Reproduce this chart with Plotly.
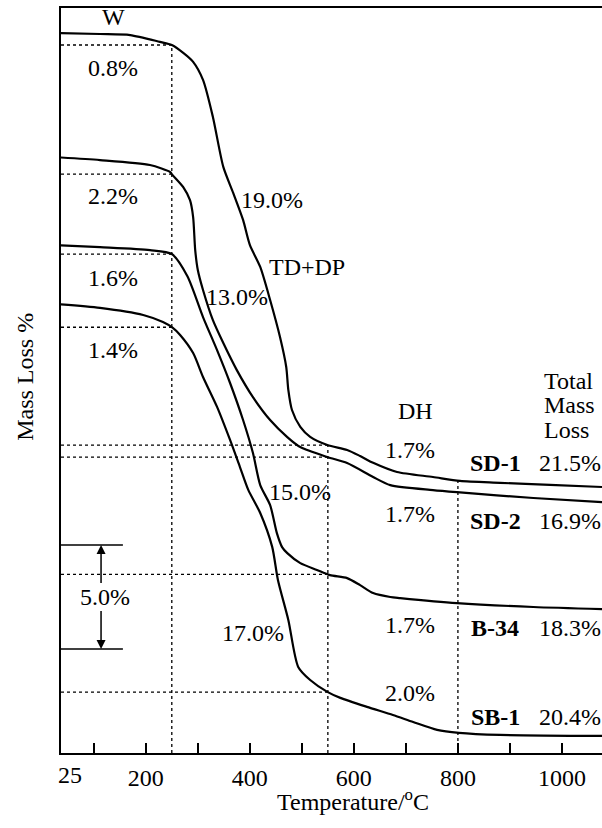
import numpy as np
import plotly.graph_objects as go

# ---- data (temperature in °C, relative mass in %) ----
SD1_T = [25, 112, 170, 227, 250, 272, 291, 310, 329, 349, 368, 387, 400, 420, 439, 458, 470, 474, 481, 497,
         516, 549, 587, 612, 637, 683, 752, 804, 881, 977, 1077]
SD1_M = [100, 99.95, 99.9, 99.57, 99.42, 99.04, 98.61, 97.74, 95.96, 93.56, 92.31, 91.01, 89.81, 88.75, 87.16,
         85.38, 83.94, 82.84, 81.87, 81.06, 80.58, 80.19, 79.95, 79.66, 79.33, 78.89, 78.65, 78.46, 78.37,
         78.27, 78.17]

SD2_T = [25, 112, 208, 247, 250, 272, 285, 291, 295, 300, 310, 329, 349, 375, 406, 439, 472, 497, 549, 587,
         637, 670, 752, 798, 945, 1077]
SD2_M = [100, 99.86, 99.62, 99.28, 99.18, 98.56, 97.93, 97.12, 95.53, 94.57, 93.61, 92.16, 91.06, 89.76,
         88.46, 87.36, 86.54, 86.06, 85.58, 85.29, 84.62, 84.23, 83.99, 83.89, 83.61, 83.41]

B34_T = [25, 112, 208, 250, 280, 310, 337, 362, 387, 406, 420, 439, 452, 462, 472, 497, 529, 554, 587,
         612, 637, 670, 689, 798, 945, 1077]
B34_M = [100, 99.9, 99.76, 99.57, 98.5, 96.54, 94.95, 93.37, 91.59, 90.0, 88.46, 87.5, 86.15, 85.48,
         85.19, 84.71, 84.38, 84.13, 83.99, 83.65, 83.27, 83.08, 83.03, 82.79, 82.60, 82.50]

SB1_T = [25, 112, 195, 233, 252, 266, 291, 310, 337, 362, 381, 397, 420, 443, 454, 474, 493, 516, 549,
         574, 625, 675, 714, 760, 802, 881, 1077]
SB1_M = [100, 99.81, 99.47, 99.13, 98.85, 98.51, 97.64, 96.49, 95.05, 93.46, 92.16, 91.06, 89.95,
         88.32, 86.73, 84.81, 82.55, 81.92, 81.35, 81.06, 80.63, 80.24, 79.9, 79.52, 79.38, 79.28, 79.23]

SAMPLES = ["SD-1", "SD-2", "B-34", "SB-1"]
TOTAL_LOSS = ["21.5%", "16.9%", "18.3%", "20.4%"]
W_LOSS = ["0.8%", "2.2%", "1.6%", "1.4%"]
DH_LOSS = ["1.7%", "1.7%", "1.7%", "2.0%"]
STAGE_TEMPS = [250, 550, 800]
TICK_VALS = [100, 200, 300, 400, 500, 600, 700, 800, 900, 1000]
TICK_TEXT = ["", "200", "", "400", "", "600", "", "800", "", "1000"]

# vertical stacking offsets of the curves (start level of each curve)
START = {"SD-1": 34.62, "SD-2": 28.65, "B-34": 24.42, "SB-1": 21.59}

curves = {"SD-1": (SD1_T, SD1_M), "SD-2": (SD2_T, SD2_M),
          "B-34": (B34_T, B34_M), "SB-1": (SB1_T, SB1_M)}

X0, X1 = 37, 1077
Y0, Y1 = 0, 35.82
FONT = "Liberation Serif, Times New Roman, serif"
FS = 24

fig = go.Figure()


def level(name, t):
    T, M = curves[name]
    return float(np.interp(t, T, M)) - 100 + START[name]


dot = dict(color="black", width=1.3, dash="dot")
# horizontal dotted guides at 250 and 550 °C
for name in SAMPLES:
    for t in STAGE_TEMPS[:2]:
        yv = level(name, t)
        fig.add_trace(go.Scatter(x=[X0, t], y=[yv, yv], mode="lines", line=dot,
                                 hoverinfo="skip", showlegend=False))
# vertical dotted guides
for t in STAGE_TEMPS:
    fig.add_trace(go.Scatter(x=[t, t], y=[Y0, level("SD-1", t)], mode="lines", line=dot,
                             hoverinfo="skip", showlegend=False))

# TG curves
for name in SAMPLES:
    T, M = curves[name]
    y = [m - 100 + START[name] for m in M]
    fig.add_trace(go.Scatter(x=T, y=y, mode="lines", name=name, showlegend=False,
                             line=dict(color="black", width=2.2, shape="spline", smoothing=0.7)))

# 5.0 % scale bar
for yv in [10, 5]:
    fig.add_trace(go.Scatter(x=[X0, 156], y=[yv, yv], mode="lines",
                             line=dict(color="black", width=1.5), hoverinfo="skip", showlegend=False))
for tip, tail in [(10, 8.1), (5, 6.9)]:
    fig.add_annotation(x=114, y=tip, ax=114, ay=tail, axref="x", ayref="y", xref="x", yref="y",
                       text="", showarrow=True, arrowhead=2, arrowsize=1.2, arrowwidth=1.5,
                       arrowcolor="black")


def txt(x, y, s, size=FS, xanchor="center", **kw):
    fig.add_annotation(x=x, y=y, text=s, showarrow=False, xanchor=xanchor, yanchor="middle",
                       font=dict(family=FONT, size=size, color="black"), **kw)


txt(122, 7.5, "5.0%")
txt(137, 35.38, "W")
for s, yv in zip(W_LOSS, [32.93, 26.78, 22.84, 19.38]):
    txt(137, yv, s)
txt(443, 26.59, "19.0%")
txt(510, 23.37, "TD+DP")
txt(375, 21.92, "13.0%")
txt(497, 12.55, "15.0%")
txt(406, 5.77, "17.0%")
txt(718, 16.44, "DH")
for s, yv in zip(DH_LOSS, [14.57, 11.49, 6.15, 2.88]):
    txt(708, yv, s)
for name, tot, yv in zip(SAMPLES, TOTAL_LOSS, [13.94, 11.15, 6.0, 1.75]):
    txt(872, yv, "<b>%s</b>" % name)
    txt(1016, yv, tot)
for s, yv in zip(["Total", "Mass", "Loss"], [17.88, 16.73, 15.53]):
    txt(962, yv, s, xanchor="left")

# "25" start label, axis titles
fig.add_annotation(x=54, y=-0.0295, xref="x", yref="paper", text="25", showarrow=False,
                   yanchor="middle", font=dict(family=FONT, size=FS, color="black"))
fig.add_annotation(x=0.54, y=-0.063, xref="paper", yref="paper", text="Temperature/<sup>o</sup>C",
                   showarrow=False, yanchor="middle", font=dict(family=FONT, size=FS, color="black"))
fig.add_annotation(x=-0.0665, y=0.505, xref="paper", yref="paper", text="Mass Loss %", textangle=-90,
                   showarrow=False, xanchor="center", yanchor="middle",
                   font=dict(family=FONT, size=FS, color="black"))

fig.update_layout(
    width=602, height=828,
    margin=dict(l=61, r=0, t=8, b=75),
    paper_bgcolor="white", plot_bgcolor="white",
    xaxis=dict(range=[X0, X1], showgrid=False, zeroline=False, showline=True, linecolor="black",
               linewidth=2, mirror=True, ticks="inside", ticklen=10, tickwidth=1.5, tickcolor="black",
               tickvals=TICK_VALS, ticktext=TICK_TEXT, ticklabelstandoff=2,
               tickfont=dict(family=FONT, size=FS, color="black")),
    yaxis=dict(range=[Y0, Y1], showgrid=False, zeroline=False, showline=True, linecolor="black",
               linewidth=2, showticklabels=False, ticks=""),
)

fig.write_html("out.html", config={"displayModeBar": False},
               post_script="document.body.style.margin='0';document.body.style.overflow='hidden';")
